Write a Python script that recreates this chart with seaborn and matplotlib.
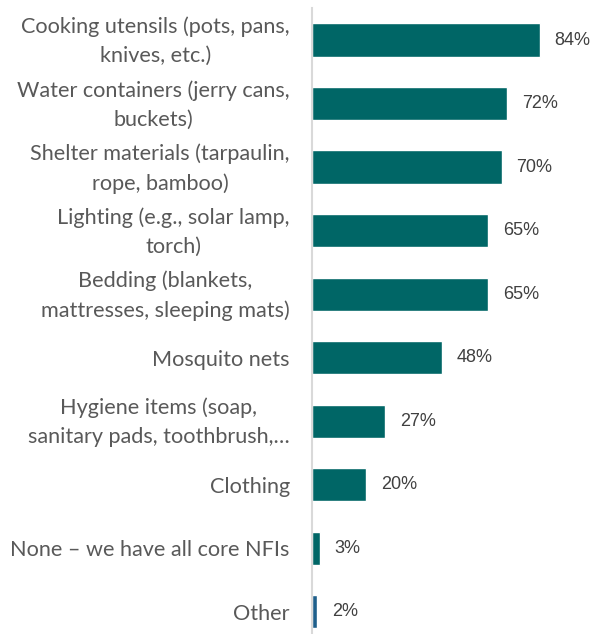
import matplotlib
matplotlib.use("Agg")
import matplotlib.pyplot as plt
import matplotlib.transforms as mtransforms
import seaborn as sns
import pandas as pd

categories = [
    "Cooking utensils (pots, pans,\nknives, etc.)",
    "Water containers (jerry cans,\nbuckets)",
    "Shelter materials (tarpaulin,\nrope, bamboo)",
    "Lighting (e.g., solar lamp,\ntorch)",
    "Bedding (blankets,\nmattresses, sleeping mats)",
    "Mosquito nets",
    "Hygiene items (soap,\nsanitary pads, toothbrush,\u2026",
    "Clothing",
    "None \u2013 we have all core NFIs",
    "Other",
]
values = [84, 72, 70, 65, 65, 48, 27, 20, 3, 2]
bar_colors = ["#006666"] * 9 + ["#1F5F8B"]

df = pd.DataFrame({"item": categories, "pct": values})

sns.set_theme(style="white")
plt.rcParams["font.family"] = ["Lato", "DejaVu Sans"]

W, H = 594, 634
fig = plt.figure(figsize=(W / 100, H / 100), dpi=100)
ax = fig.add_axes([312 / W, 0, (W - 312) / W, 626 / H])

sns.barplot(data=df, y="item", x="pct", hue="item", palette=bar_colors,
            saturation=1, legend=False, width=0.52, ax=ax, orient="h")

ax.set_xlim(0, (W - 312) / 2.714)
ax.set_ylim(9.354, -0.504)
ax.set_xlabel("")
ax.set_ylabel("")
ax.set_xticks([])
for s in ["top", "right", "bottom"]:
    ax.spines[s].set_visible(False)
ax.spines["left"].set_color("#D9D9D9")
ax.spines["left"].set_linewidth(1.5)

ax.tick_params(axis="y", length=0, pad=16)
lift = mtransforms.ScaledTranslation(0, 5 / 100, fig.dpi_scale_trans)
for lbl in ax.get_yticklabels():
    lbl.set_fontsize(15.6)
    lbl.set_color("#595959")
    lbl.set_multialignment("center")
    lbl.set_linespacing(1.55)
    if "\n" in lbl.get_text():
        lbl.set_transform(lbl.get_transform() + lift)

for i, v in enumerate(values):
    ax.text(v + 5.3, i, f"{v}%", va="center", ha="left", fontsize=13,
            color="#404040", family=["Liberation Sans", "DejaVu Sans"])

fig.savefig("out.png", dpi=100)
